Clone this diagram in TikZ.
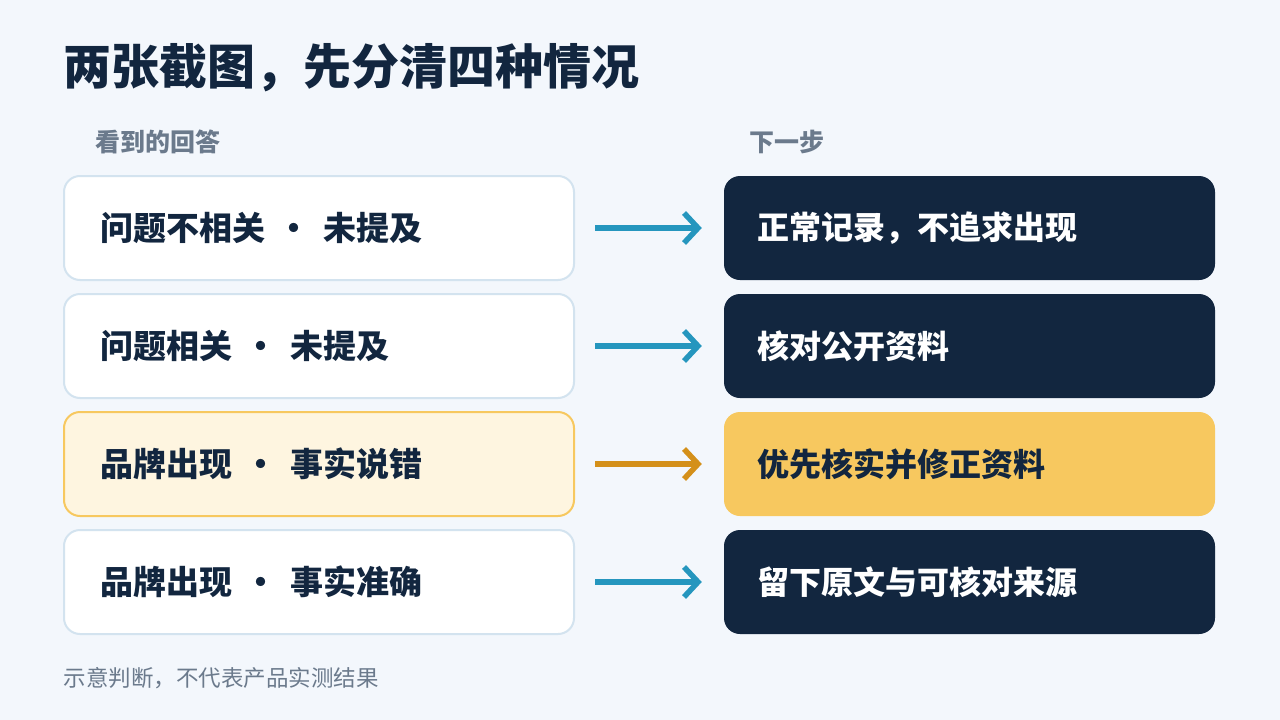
\documentclass[tikz,border=0pt]{standalone}
\usepackage{fontspec}
\setmainfont{Noto Sans CJK SC}
\usetikzlibrary{arrows.meta,positioning}
\definecolor{bgc}{HTML}{F3F7FC}
\definecolor{navy}{HTML}{12263F}
\definecolor{edgeblue}{HTML}{D3E3EF}
\definecolor{arrowblue}{HTML}{2596BE}
\definecolor{arrowgold}{HTML}{D4901A}
\definecolor{goldfill}{HTML}{F7C85F}
\definecolor{paleyellow}{HTML}{FEF5E0}
\definecolor{greytext}{HTML}{6B7A8C}
\newcommand{\sepdot}{\hspace{0.38em}·\hspace{0.38em}}
\tikzset{
  situation/.style={draw=edgeblue, line width=2pt, fill=white, rounded corners=16pt,
    minimum width=510pt, minimum height=104pt, inner xsep=36pt, text=navy,
    font=\fontsize{33pt}{38pt}\selectfont\bfseries, align=left, text width=438pt},
  hotsit/.style={situation, draw=goldfill, fill=paleyellow},
  action/.style={fill=navy, rounded corners=16pt, minimum width=491pt, minimum height=104pt,
    inner xsep=33pt, text=white, font=\fontsize{32pt}{36pt}\selectfont\bfseries,
    align=left, text width=425pt},
  hotact/.style={action, fill=goldfill, text=navy},
  flow/.style={line width=5.5pt, arrowblue, -{Straight Barb[length=14pt,width=30pt]},
    shorten <=20pt, shorten >=22pt},
  hotflow/.style={flow, arrowgold},
  colhead/.style={anchor=west, text=greytext, font=\fontsize{25pt}{28pt}\selectfont\bfseries}
}
\begin{document}
\begin{tikzpicture}[x=1pt,y=-1pt]
  \fill[bgc] (0,0) rectangle (1280,720);
  \useasboundingbox (0,0) rectangle (1280,720);

  % title and column heads
  \node[anchor=west, text=navy, font=\fontsize{48pt}{54pt}\selectfont\bfseries] (title) at (60,68) {两张截图，先分清四种情况};
  \node[colhead] (lefthead) at (92,142) {看到的回答};
  \node[colhead] (righthead) at (746,142) {下一步};

  % rows
  \node[situation] (l1) at (319,228) {问题不相关\sepdot 未提及};
  \node[situation] (l2) at (319,346) {问题相关\sepdot 未提及};
  \node[hotsit]    (l3) at (319,464) {品牌出现\sepdot 事实说错};
  \node[situation] (l4) at (319,582) {品牌出现\sepdot 事实准确};

  \node[action] (r1) at (969.5,228) {正常记录，不追求出现};
  \node[action] (r2) at (969.5,346) {核对公开资料};
  \node[hotact] (r3) at (969.5,464) {优先核实并修正资料};
  \node[action] (r4) at (969.5,582) {留下原文与可核对来源};

  \foreach \i/\s in {1/flow,2/flow,3/hotflow,4/flow}{
    \draw[\s] (l\i.east) -- (r\i.west);
  }

  % footnote
  \node[anchor=west, text=greytext, font=\fontsize{22.5pt}{26pt}\selectfont] (note) at (60,678) {示意判断，不代表产品实测结果};
\end{tikzpicture}
\end{document}
